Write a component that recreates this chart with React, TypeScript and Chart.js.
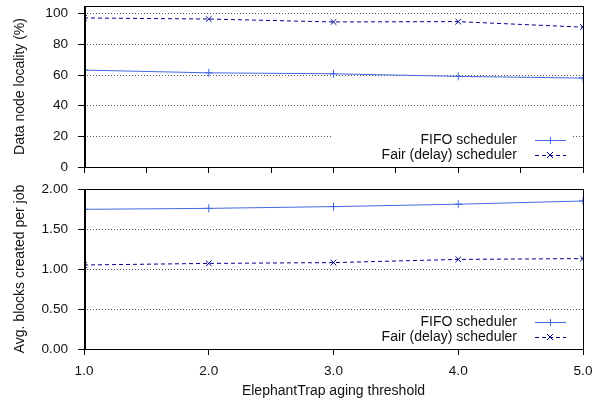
import React, { useEffect, useRef } from "react";
import { Chart, registerables } from "chart.js";
Chart.register(...registerables);

const thresholds = [1, 2, 3, 4, 5];
const fifoLocality = [63.2, 61.4, 60.8, 59.1, 58.0];
const fairLocality = [97.2, 96.5, 94.6, 94.8, 91.2];
const fifoBlocks = [1.746, 1.758, 1.78, 1.81, 1.85];
const fairBlocks = [1.05, 1.07, 1.08, 1.12, 1.13];
const seriesNames = ["FIFO scheduler", "Fair (delay) scheduler"];
const xTitle = "ElephantTrap aging threshold";
const yTitleTop = "Data node locality (%)";
const yTitleBottom = "Avg. blocks created per job";

const FIFO_COLOR = "#4169E1";
const FAIR_COLOR = "#00008B";
const FONT = "'Liberation Sans', Arial, Helvetica, sans-serif";

const framePlugin = {
  id: "frame",
  afterDraw(chart: any) {
    const { ctx, chartArea } = chart;
    const o = chart.options.plugins.frameLegend;
    ctx.save();
    const rows = o.rows as number[];
    ctx.fillStyle = "#fff";
    ctx.fillRect(331, rows[0] - 9, 242, rows[1] - rows[0] + 18);
    ctx.font = `14px ${FONT}`;
    ctx.textAlign = "right";
    ctx.textBaseline = "middle";
    const styles = [
      { color: FIFO_COLOR, dash: [] as number[], cross: false },
      { color: FAIR_COLOR, dash: [4, 3], cross: true },
    ];
    seriesNames.forEach((name, i) => {
      const y = rows[i];
      ctx.fillStyle = "#111";
      ctx.fillText(name, 517, y + 0.5);
      const s = styles[i];
      ctx.strokeStyle = s.color;
      ctx.lineWidth = 1;
      ctx.setLineDash(s.dash);
      ctx.beginPath();
      ctx.moveTo(535, y + 0.5);
      ctx.lineTo(566, y + 0.5);
      ctx.stroke();
      ctx.setLineDash([]);
      ctx.beginPath();
      if (s.cross) {
        ctx.moveTo(547, y - 3);
        ctx.lineTo(553, y + 3);
        ctx.moveTo(553, y - 3);
        ctx.lineTo(547, y + 3);
      } else {
        ctx.moveTo(550.5, y - 3);
        ctx.lineTo(550.5, y + 4);
        ctx.moveTo(547, y + 0.5);
        ctx.lineTo(554, y + 0.5);
      }
      ctx.stroke();
    });
    ctx.strokeStyle = "#000";
    ctx.lineWidth = 1;
    ctx.strokeRect(
      chartArea.left + 0.5,
      chartArea.top + 0.5,
      chartArea.right - chartArea.left,
      chartArea.bottom - chartArea.top
    );
    ctx.lineWidth = 2;
    ctx.beginPath();
    ctx.moveTo(chartArea.left + 1, chartArea.top);
    ctx.lineTo(chartArea.left + 1, chartArea.bottom + 1);
    ctx.stroke();
    ctx.restore();
  },
};

function zeroPad(s: any) {
  s.paddingTop = 0;
  s.paddingBottom = 0;
  s.paddingLeft = 0;
  s.paddingRight = 0;
}

function makeConfig(fifo: number[], fair: number[], top: boolean): any {
  const tickFont = { family: FONT, size: 13.6 };
  const titleFont = { family: FONT, size: 14 };
  return {
    type: "line",
    data: {
      datasets: [
        {
          label: seriesNames[0],
          data: thresholds.map((x, i) => ({ x, y: fifo[i] })),
          borderColor: FIFO_COLOR,
          backgroundColor: FIFO_COLOR,
          borderWidth: 1,
          pointStyle: "cross",
          pointRadius: 4,
          pointBorderWidth: 1,
          fill: false,
          tension: 0,
        },
        {
          label: seriesNames[1],
          data: thresholds.map((x, i) => ({ x, y: fair[i] })),
          borderColor: FAIR_COLOR,
          backgroundColor: FAIR_COLOR,
          borderWidth: 1,
          borderDash: [4, 3],
          pointStyle: "crossRot",
          pointRadius: 4,
          pointBorderWidth: 1,
          fill: false,
          tension: 0,
        },
      ],
    },
    options: {
      responsive: false,
      animation: false,
      layout: { padding: { left: 0, right: 20, top: top ? 6 : 9, bottom: 0 } },
      plugins: {
        legend: { display: false },
        tooltip: { enabled: false },
        frameLegend: { rows: top ? [140, 155] : [142, 157] },
      },
      scales: {
        x: {
          type: "linear",
          min: 1,
          max: 5,
          border: { display: false },
          grid: {
            drawOnChartArea: false,
            drawTicks: true,
            tickLength: 6,
            tickColor: "#000",
          },
          ticks: {
            stepSize: top ? 0.5 : 1,
            display: !top,
            padding: 8,
            color: "#111",
            font: tickFont,
            maxRotation: 0,
            callback: (v: number) => v.toFixed(1),
          },
          title: {
            display: !top,
            text: xTitle,
            color: "#111",
            font: titleFont,
            padding: { top: 0, bottom: 5 },
          },
          afterFit: (s: any) => {
            s.height = top ? 13 : 56;
            zeroPad(s);
          },
        },
        y: {
          min: 0,
          max: top ? 105 : 2,
          border: { display: false, dash: [1, 2] },
          grid: {
            color: "#555",
            lineWidth: 1,
            drawTicks: true,
            tickLength: 6,
            tickColor: "#000",
            tickBorderDash: [],
          },
          ticks: {
            stepSize: top ? 20 : 0.5,
            includeBounds: false,
            padding: 10,
            color: "#111",
            font: tickFont,
            callback: (v: number) => (top ? String(v) : v.toFixed(2)),
          },
          title: {
            display: true,
            text: top ? yTitleTop : yTitleBottom,
            color: "#111",
            font: titleFont,
            padding: { top: 12, bottom: 0 },
          },
          afterFit: (s: any) => {
            s.width = 84;
            zeroPad(s);
          },
        },
      },
    },
    plugins: [framePlugin],
  };
}

function ChartCanvas(props: { fifo: number[]; fair: number[]; top: boolean; y: number; h: number }) {
  const ref = useRef<HTMLCanvasElement>(null);
  useEffect(() => {
    if (!ref.current) return;
    const c = new Chart(ref.current, makeConfig(props.fifo, props.fair, props.top));
    return () => c.destroy();
  }, []);
  return (
    <canvas
      ref={ref}
      width={603}
      height={props.h}
      style={{ position: "absolute", left: 0, top: props.y, width: 603, height: props.h }}
    />
  );
}

export default function App() {
  return (
    <div style={{ position: "absolute", left: 0, top: 0, width: 603, height: 405, background: "#fff" }}>
      <ChartCanvas fifo={fifoLocality} fair={fairLocality} top={true} y={0} h={180} />
      <ChartCanvas fifo={fifoBlocks} fair={fairBlocks} top={false} y={180} h={225} />
    </div>
  );
}
